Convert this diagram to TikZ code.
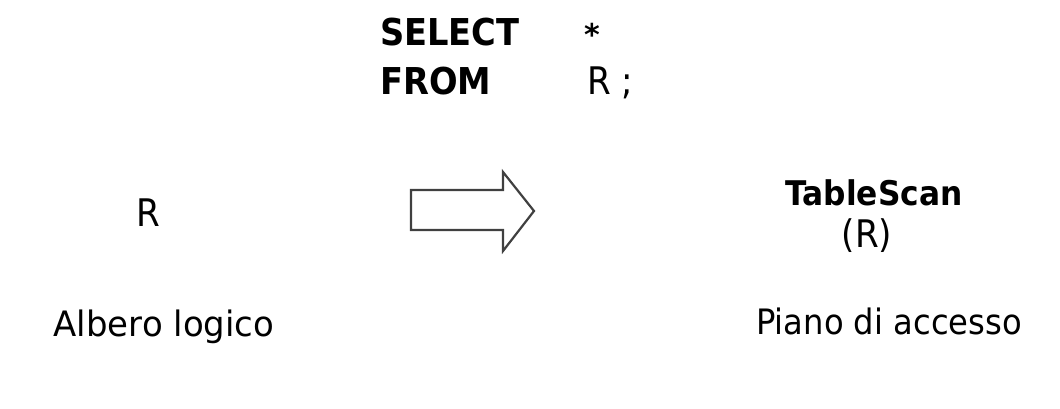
\documentclass[tikz,border=0pt]{standalone}
\usepackage{fontspec}
\setmainfont{DejaVu Sans}
\begin{document}
\begin{tikzpicture}[x=1pt,y=-1pt,
  lbl/.style={inner sep=0pt,anchor=base},
  kw/.style={inner sep=0pt,anchor=base west},
  bigarrow/.style={draw=black!75,line width=2.2pt,line join=miter}]
\useasboundingbox (0,0) rectangle (1060,408);
\node[kw] (sel) at (380,45) {\fontsize{37}{40}\selectfont\bfseries\scalebox{0.91}[1]{SELECT}};
\node[kw] (star) at (584,45) {\fontsize{30}{40}\selectfont\bfseries *};
\node[kw] (from) at (380,94) {\fontsize{37}{40}\selectfont\bfseries\scalebox{0.91}[1]{FROM}};
\node[kw] (rr) at (587,94) {\fontsize{38}{40}\selectfont\scalebox{0.9}[1]{R ;}};
\node[lbl] (r) at (148,226) {\fontsize{38}{40}\selectfont\scalebox{0.9}[1]{R}};
\node[lbl] (al) at (164,336) {\fontsize{35}{40}\selectfont\scalebox{0.97}[1]{Albero logico}};
\node[lbl] (ts) at (874,205) {\fontsize{34}{40}\selectfont\bfseries\scalebox{0.92}[1]{TableScan}};
\node[lbl] (tsr) at (867,247) {\fontsize{38}{40}\selectfont\scalebox{0.9}[1]{(R)}};
\node[lbl] (pa) at (889,334) {\fontsize{35}{40}\selectfont\scalebox{0.92}[1]{Piano di accesso}};
\draw[bigarrow] (411,190) -- (503,190) -- (503,172) -- (534,211) -- (503,251) -- (503,230) -- (411,230) -- cycle;
\end{tikzpicture}
\end{document}
